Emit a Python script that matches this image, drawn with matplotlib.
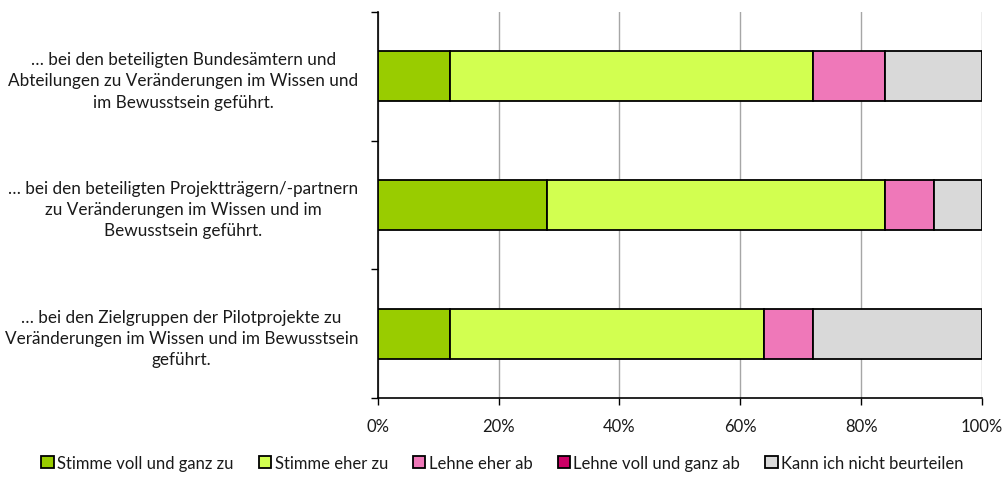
import matplotlib
matplotlib.use("Agg")
import matplotlib.pyplot as plt
import numpy as np

plt.rcParams["font.family"] = ["Lato", "DejaVu Sans"]

categories = [
    "… bei den beteiligten Bundesämtern und\nAbteilungen zu Veränderungen im Wissen und\nim Bewusstsein geführt.",
    "… bei den beteiligten Projektträgern/-partnern\nzu Veränderungen im Wissen und im\nBewusstsein geführt.",
    "… bei den Zielgruppen der Pilotprojekte zu\nVeränderungen im Wissen und im Bewusstsein\ngeführt.",
]
series = [
    "Stimme voll und ganz zu",
    "Stimme eher zu",
    "Lehne eher ab",
    "Lehne voll und ganz ab",
    "Kann ich nicht beurteilen",
]
stimme_voll = [12, 28, 12]
stimme_eher = [60, 56, 52]
lehne_eher = [12, 8, 8]
lehne_voll = [0, 0, 0]
kann_nicht = [16, 8, 28]
values = [stimme_voll, stimme_eher, lehne_eher, lehne_voll, kann_nicht]
colors = ["#99CC00", "#D2FF50", "#EF78B9", "#CC0066", "#D9D9D9"]

fig = plt.figure(figsize=(10.05, 4.81), dpi=100)
ax = fig.add_axes([0.376, 0.170, 0.601, 0.803])

y = np.arange(len(categories))[::-1]
left = np.zeros(len(categories))
for name, vals, col in zip(series, values, colors):
    vals = np.array(vals, dtype=float)
    ax.barh(y, vals, left=left, height=0.39, color=col, edgecolor="black",
            linewidth=1.3, label=name, zorder=3)
    left += vals

ax.set_xlim(0, 100)
ax.set_ylim(-0.5, len(categories) - 0.5)
ax.set_xticks(range(0, 101, 20))
ax.set_xticklabels([f"{v}%" for v in range(0, 101, 20)], fontsize=12, color="#1a1a1a")
ax.xaxis.grid(True, color="#A6A6A6", linewidth=1.0, zorder=0)

ax.set_yticks(np.arange(-0.5, len(categories), 1.0))
ax.set_yticklabels([])
ax.set_yticks(y, categories, minor=True)
ax.tick_params(axis="y", which="minor", length=0, pad=14, labelsize=12.3)
for lbl in ax.get_yticklabels(minor=True):
    lbl.set_multialignment("center")
    lbl.set_linespacing(1.4)
    lbl.set_color("#1a1a1a")
ax.tick_params(axis="y", which="major", length=5, width=1, direction="out")
ax.tick_params(axis="x", which="major", length=5, width=1, direction="out", pad=9)

ax.spines[["top", "right"]].set_visible(False)
ax.spines["left"].set_linewidth(1.2)
ax.spines["bottom"].set_linewidth(1.2)

leg = fig.legend(loc="lower center", bbox_to_anchor=(0.5, -0.012), ncol=5, frameon=False,
                 fontsize=12, handlelength=0.75, handleheight=0.75,
                 handletextpad=0.2, columnspacing=1.5)
for t in leg.get_texts():
    t.set_color("#1a1a1a")

fig.savefig("out.png")
